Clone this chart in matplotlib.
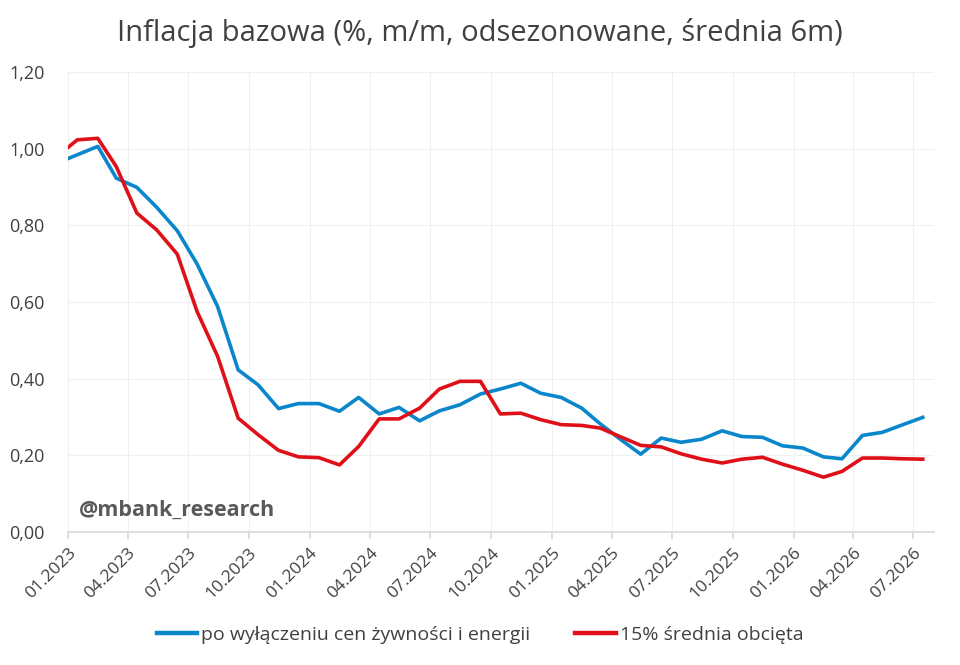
import numpy as np
import pandas as pd
import matplotlib
matplotlib.use("Agg")
import matplotlib.pyplot as plt
import matplotlib.dates as mdates
from matplotlib.ticker import FuncFormatter

# miesiace (polowa miesiaca), od 12.2022 do 07.2026
dates = pd.date_range("2022-12-01", "2026-07-01", freq="MS") + pd.Timedelta(days=14)

core_ex_food_energy = [
    0.962, 0.984, 1.006, 0.923, 0.899, 0.847, 0.786, 0.699, 0.588, 0.423, 0.384, 0.322, 0.335,
    0.335, 0.315, 0.351, 0.308, 0.325, 0.290, 0.316, 0.332, 0.360, 0.373, 0.388, 0.362,
    0.351, 0.323, 0.282, 0.241, 0.203, 0.245, 0.234, 0.242, 0.264, 0.249, 0.247, 0.225,
    0.219, 0.196, 0.191, 0.252, 0.260, 0.280, 0.299,
]
trimmed_mean_15 = [
    0.979, 1.023, 1.027, 0.953, 0.832, 0.788, 0.725, 0.575, 0.458, 0.297, 0.254, 0.213, 0.196,
    0.194, 0.175, 0.223, 0.295, 0.295, 0.323, 0.373, 0.393, 0.393, 0.308, 0.310, 0.293,
    0.280, 0.278, 0.271, 0.248, 0.226, 0.222, 0.204, 0.190, 0.180, 0.190, 0.195, 0.177,
    0.161, 0.143, 0.158, 0.193, 0.193, 0.191, 0.190,
]
series_labels = ["po wyłączeniu cen żywności i energii", "15% średnia obcięta"]
tick_dates = pd.date_range("2023-01-01", "2026-07-01", freq="3MS")

plt.rcParams["font.family"] = ["Open Sans", "DejaVu Sans"]
text_color = "#404040"

fig = plt.figure(figsize=(9.6, 6.65), dpi=100)
ax = fig.add_axes([68 / 960, 1 - 532 / 665, (934 - 68) / 960, (532 - 72) / 665])

ax.plot(dates, core_ex_food_energy, color="#0A86CB", lw=2.6, label=series_labels[0],
        solid_joinstyle="round")
ax.plot(dates, trimmed_mean_15, color="#E01019", lw=2.6, label=series_labels[1],
        solid_joinstyle="round")

ax.set_xlim(pd.Timestamp("2023-01-01"), pd.Timestamp("2026-08-01"))
ax.set_ylim(0, 1.2)
ax.set_yticks(np.arange(0, 1.21, 0.2))
ax.yaxis.set_major_formatter(FuncFormatter(lambda v, p: f"{v:.2f}".replace(".", ",")))
ax.set_xticks(tick_dates)
ax.xaxis.set_major_formatter(mdates.DateFormatter("%m.%Y"))
plt.setp(ax.get_xticklabels(), rotation=45, ha="right", rotation_mode="anchor")

ax.grid(True, color="#f0f0f0", lw=0.8)
ax.set_axisbelow(True)
for s in ["top", "right", "left"]:
    ax.spines[s].set_visible(False)
ax.spines["bottom"].set_color("#d9d9d9")
ax.spines["bottom"].set_linewidth(1.2)
ax.tick_params(axis="x", colors="#d9d9d9", length=5, width=1.2, labelcolor=text_color,
               labelsize=12.5, pad=4)
ax.tick_params(axis="y", length=0, labelcolor=text_color, labelsize=13, pad=17)

ax.text(0.012, 0.025, "@mbank_research", transform=ax.transAxes, fontsize=15.5,
        fontweight="bold", color="#595959", va="bottom", ha="left")

fig.text(0.5, 1 - 33 / 665, "Inflacja bazowa (%, m/m, odsezonowane, średnia 6m)",
         ha="center", va="center", fontsize=21, color=text_color)

leg = fig.legend(loc="center", bbox_to_anchor=(0.5, 1 - 635 / 665), ncol=2, frameon=False,
                 fontsize=14, handlelength=2.1, columnspacing=2.3, handletextpad=0.2,
                 labelcolor=text_color)
for h in leg.get_lines():
    h.set_linewidth(3.2)

fig.savefig("out.png", dpi=100)
